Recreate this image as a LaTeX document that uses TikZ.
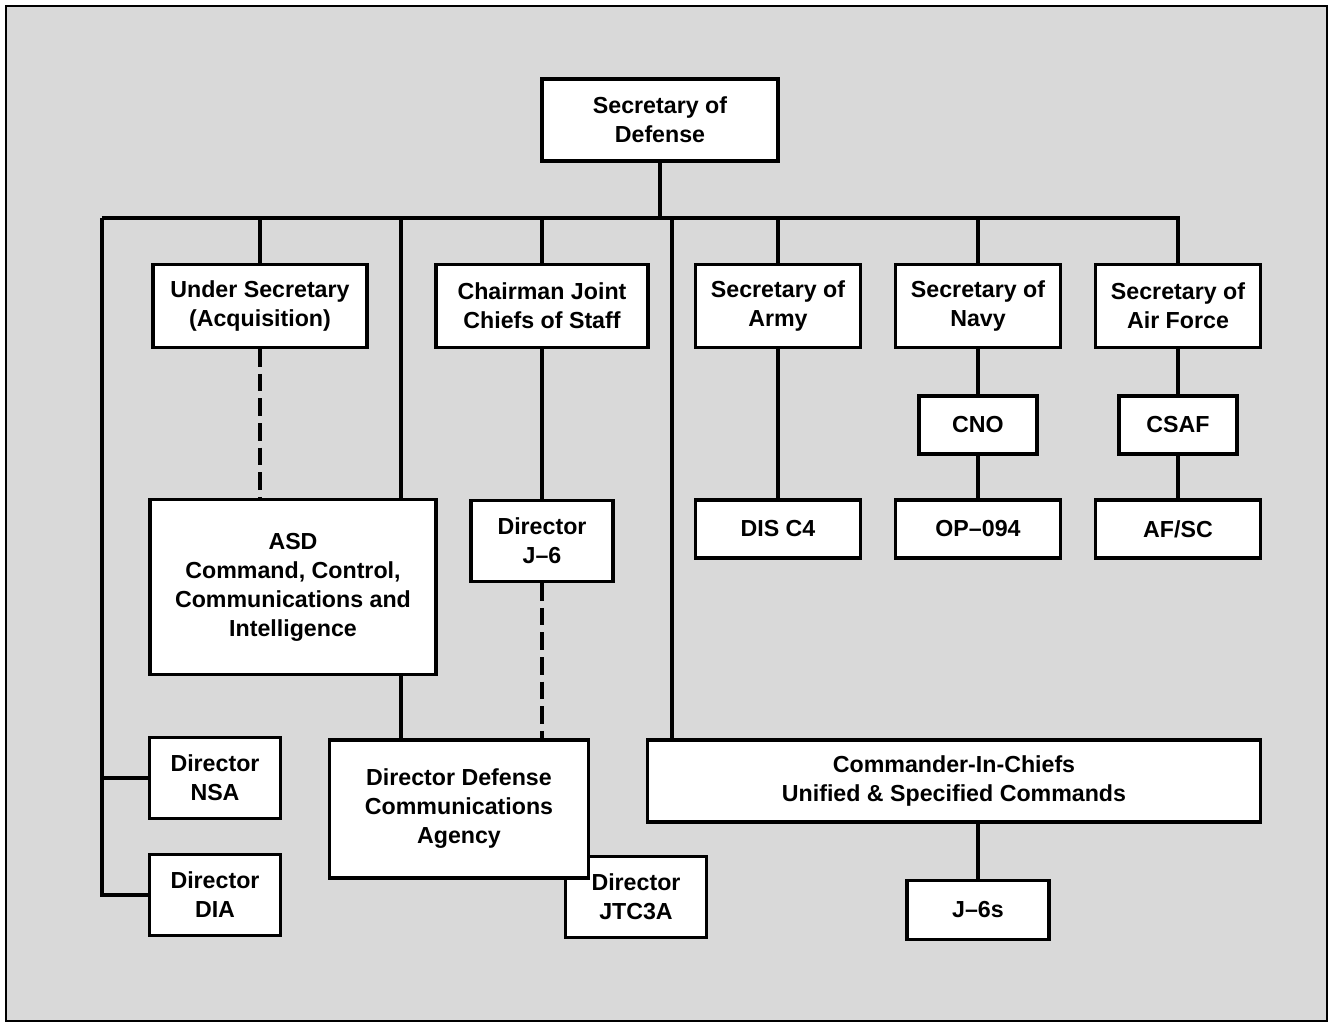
\documentclass[tikz,border=0pt]{standalone}
\usepackage{fontspec}
\setmainfont{Liberation Sans}

\begin{document}
\begin{tikzpicture}[line width=2pt, node distance=40mm, block/.style={rectangle, draw, fill=white, align=center, inner sep=2pt, minimum width=33mm, minimum height=16.6mm, font=\fontsize{13.2}{16.5}\selectfont\bfseries}, smallbox/.style={block, minimum height=11.6mm}, dotted line/.style={dash pattern=on 10pt off 4pt}]

  \useasboundingbox (-132mm,24mm) rectangle (134.2mm,-181mm);
  \draw[fill=black!15, line width=1.2pt] (-130.8mm,22.8mm) rectangle (133.4mm,-180.2mm);

  \node[block, minimum width=47.2mm, minimum height=16.4mm] (sod) at (0,0) {Secretary of\\Defense};
  \node[coordinate, below of=sod, node distance=19.6mm] (bus) {};
  \node[coordinate, left of=bus, node distance=111.6mm] (busl) {};
  \node[coordinate, right of=bus, node distance=2.4mm] (cincin) {};

  \node[block, minimum width=42.8mm] (usec) at (-80mm,-37.2mm) {Under Secretary\\(Acquisition)};
  \node[block, right of=usec, node distance=56.4mm, minimum width=42.4mm] (jcs) {Chairman Joint\\Chiefs of Staff};
  \node[block, right of=jcs, node distance=47.2mm] (army) {Secretary of\\Army};
  \node[block, right of=army] (navy) {Secretary of\\Navy};
  \node[block, right of=navy] (airf) {Secretary of\\Air Force};

  \node[smallbox, below of=navy, node distance=23.8mm, minimum width=23.6mm] (cno) {CNO};
  \node[smallbox, below of=airf, node distance=23.8mm, minimum width=23.6mm] (csaf) {CSAF};
  \node[smallbox, below of=cno, node distance=20.8mm] (op) {OP--094};
  \node[smallbox, below of=csaf, node distance=20.8mm] (afsc) {AF/SC};
  \node[smallbox, below of=army, node distance=44.6mm] (dis) {DIS C4};

  \node[block, minimum width=57.2mm, minimum height=35mm] (asd) at (-73.4mm,-93.4mm) {ASD\\Command, Control,\\Communications and\\Intelligence};
  \node[block, below of=jcs, node distance=47mm, minimum width=28.4mm, minimum height=16.2mm] (j6) {Director\\J--6};

  \node[block, minimum width=26.2mm, minimum height=16.2mm] (nsa) at (-89mm,-131.6mm) {Director\\NSA};
  \node[block, below of=nsa, node distance=23.4mm, minimum width=26.2mm, minimum height=16.2mm] (dia) {Director\\DIA};

  \node[block, minimum width=28.2mm, minimum height=16.2mm] (jtc) at (-4.8mm,-155.4mm) {Director\\JTC3A};
  \node[block, minimum width=51.8mm, minimum height=27.6mm] (dca) at (-40.2mm,-137.8mm) {Director Defense\\Communications\\Agency};

  \node[block, minimum width=122.6mm, minimum height=16.4mm] (cinc) at (58.8mm,-132.2mm) {Commander-In-Chiefs\\Unified \& Specified Commands};
  \node[smallbox, minimum width=28.4mm, minimum height=11.8mm] (j6s) at (63.6mm,-158mm) {J--6s};

  \coordinate (asdtop) at ([xshift=21.6mm]asd.north);
  \coordinate (asdbot) at ([xshift=21.6mm]asd.south);

  \draw (sod) -- (bus);
  \draw (busl) -| (airf);
  \draw (busl) |- (dia);
  \draw (busl |- nsa) -- (nsa);
  \draw (bus -| usec) -- (usec);
  \draw (bus -| jcs) -- (jcs);
  \draw (bus -| army) -- (army);
  \draw (bus -| navy) -- (navy);
  \draw (bus -| asdtop) -- (asdtop);
  \draw (cincin) -- (cincin |- cinc.north);

  \draw[dotted line] (usec) -- (usec |- asd.north);
  \draw (asdbot) -- (asdbot |- dca.north);
  \draw (jcs) -- (j6);
  \draw[dotted line] (j6) -- (j6 |- dca.north);
  \draw (army) -- (dis);
  \draw (navy) -- (cno) -- (op);
  \draw (airf) -- (csaf) -- (afsc);
  \draw (cinc.south -| j6s) -- (j6s);
\end{tikzpicture}
\end{document}
